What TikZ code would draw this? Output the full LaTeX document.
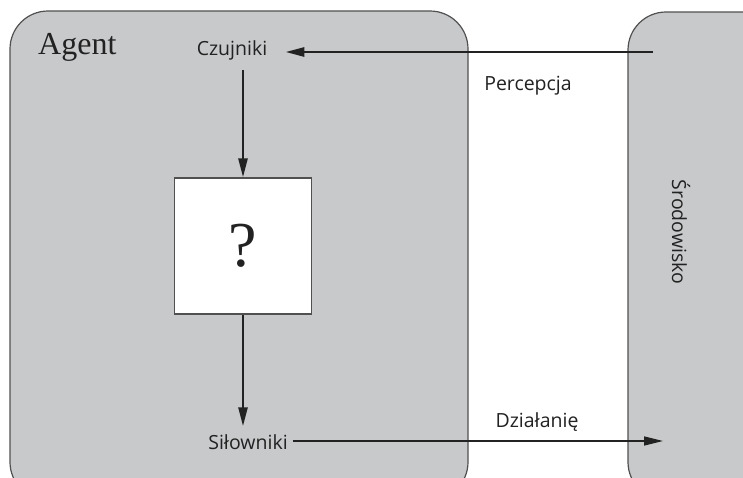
\documentclass[tikz,border=0pt]{standalone}
\usepackage{fontspec}
\setmainfont{Liberation Serif}
\newfontfamily\labelfont{Open Sans}
\usetikzlibrary{arrows.meta}
\definecolor{panelgray}{HTML}{C8C9CB}
\definecolor{edgegray}{HTML}{505050}
\definecolor{inkdark}{HTML}{222222}
\begin{document}
\begin{tikzpicture}[x=1pt,y=-1pt,
  panel/.style={draw=edgegray, line width=1.2pt, fill=panelgray, rounded corners=38pt},
  lbl/.style={font=\labelfont\fontsize{19.5}{22}\selectfont, text=inkdark, inner sep=0pt},
  flow/.style={draw=inkdark, line width=2.6pt, -{Triangle[length=19pt,width=9pt]}},
  thinflow/.style={draw=inkdark, line width=1.6pt, -{Triangle[length=19pt,width=9pt]}}]
  \useasboundingbox (0,0) rectangle (743,477);
  \begin{scope}
    \clip (0,0) rectangle (743,477);
    % agent and environment panels
    \draw[panel] (10,11) rectangle (468,500);
    \draw[panel] (628,12) rectangle (800,500);
  \end{scope}

  \node[anchor=west, font=\fontsize{32}{34}\selectfont, text=inkdark, inner sep=0pt] (agent) at (38,47) {Agent};
  \node[lbl] (czuj) at (232,50) {Czujniki};
  \node[draw=edgegray, line width=1.2pt, fill=white, minimum width=137pt, minimum height=136pt, inner sep=0pt,
        font=\fontsize{64}{68}\selectfont, text=inkdark] (qbox) at (243,246) {?};
  \node[lbl] (sil) at (248,442) {Siłowniki};
  \node[lbl] (perc) at (528,86) {Percepcja};
  \node[lbl] (dzial) at (537,422) {Działanię};
  \node[lbl, rotate=-90] (env) at (681,232) {Środowisko};

  \coordinate (envin) at (653,52);
  \coordinate (envout) at (663,441);

  \draw[flow, line width=2.8pt] (envin) -- ([xshift=18pt]czuj.east |- envin);
  \draw[flow] ([yshift=-10pt]qbox.north |- czuj.south) -- (qbox.north);
  \draw[flow] (qbox.south) -- ([yshift=8pt]qbox.south |- sil.north);
  \draw[thinflow] ([xshift=5pt]sil.east |- envout) -- (envout);
\end{tikzpicture}
\end{document}
